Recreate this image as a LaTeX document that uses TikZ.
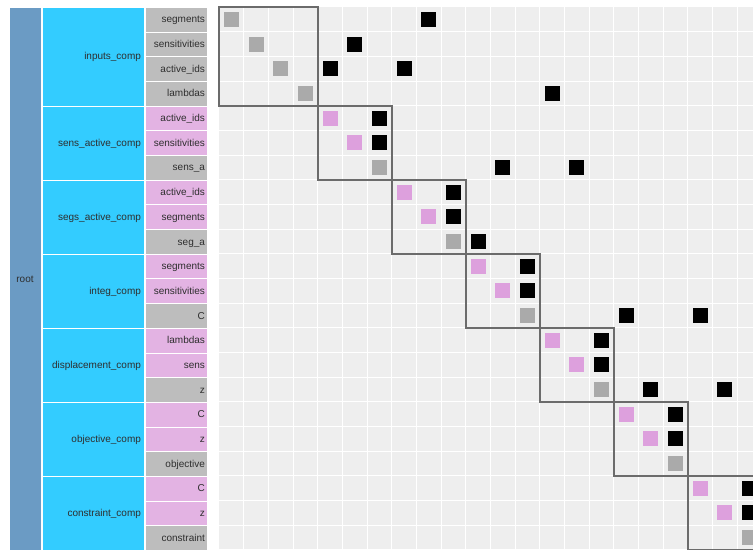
\documentclass[tikz,border=0pt]{standalone}
\usepackage{fontspec}
\setmainfont{Liberation Sans}
\usepackage{xcolor}
\usetikzlibrary{positioning}
\definecolor{rootblue}{HTML}{6B9BC4}
\definecolor{compcyan}{HTML}{33CCFF}
\definecolor{outgray}{HTML}{BDBDBD}
\definecolor{inplum}{HTML}{E3B3E3}
\definecolor{cellbg}{HTML}{EEEEEE}
\definecolor{diagout}{HTML}{AAAAAA}
\definecolor{diagin}{HTML}{DDA0DD}
\tikzset{
  pane/.style  ={draw=white,line width=0.9pt,inner sep=0pt,anchor=north west},
  txt/.style   ={font=\fontsize{10}{12}\selectfont,text=black!82,text height=7.2pt,text depth=1pt},
  varbox/.style={pane,txt,minimum width=62pt,minimum height=24.68pt,text width=57pt,align=right},
  compbox/.style={pane,txt,fill=compcyan,minimum width=102pt,text width=95pt,align=right},
  dot/.style   ={minimum size=15pt,inner sep=0pt},
  blk/.style   ={draw=black!58,line width=1.7pt},
}
\newcommand{\cs}{24.68}

\begin{document}
\begin{tikzpicture}[x=1pt,y=-1pt]
  \useasboundingbox (0,0) rectangle (753,550);
  \clip (0,0) rectangle (753,549.3);
  % left hierarchy
  \node[pane,txt,fill=rootblue,minimum width=32pt,minimum height=560pt] (root) at (9,7) {};
  \node[txt] (rootlbl) at (25,279) {root};
  \foreach \a/\n/\nm in {0/4/inputs,4/3/sens\_active,7/3/segs\_active,10/3/integ,
                         13/3/displacement,16/3/objective,19/3/constraint}
    \node[compbox,minimum height=\n*\cs pt] (comp\a) at (42,{7+\a*\cs}) {\nm\_comp};
  \foreach \i/\nm/\col in {0/segments/outgray,1/sensitivities/outgray,2/active\_ids/outgray,
      3/lambdas/outgray,4/active\_ids/inplum,5/sensitivities/inplum,6/sens\_a/outgray,
      7/active\_ids/inplum,8/segments/inplum,9/seg\_a/outgray,10/segments/inplum,
      11/sensitivities/inplum,12/C/outgray,13/lambdas/inplum,14/sens/inplum,15/z/outgray,
      16/C/inplum,17/z/inplum,18/objective/outgray,19/C/inplum,20/z/inplum,21/constraint/outgray}
    \node[varbox,fill=\col] (v\i) at (145,{7+\i*\cs}) {\nm};
  % matrix cells
  \fill[cellbg] (219,7) rectangle (770,570);
  \foreach \k in {1,...,22} {
    \draw[white,line width=1pt] ({219+\k*\cs},7) -- ++(0,570);
    \draw[white,line width=1pt] (219,{7+\k*\cs}) -- ++(560,0);
  }
  % diagonal
  \foreach \i/\col in {0/diagout,1/diagout,2/diagout,3/diagout,4/diagin,5/diagin,6/diagout,
      7/diagin,8/diagin,9/diagout,10/diagin,11/diagin,12/diagout,13/diagin,14/diagin,
      15/diagout,16/diagin,17/diagin,18/diagout,19/diagin,20/diagin,21/diagout}
    \node[dot,fill=\col] (d\i) at ({219+(\i+0.5)*\cs},{7+(\i+0.5)*\cs}) {};
  % connections
  \foreach \r/\c in {0/8,1/5,2/4,2/7,3/13,4/6,5/6,6/11,6/14,7/9,8/9,9/10,10/12,11/12,
      12/16,12/19,13/15,14/15,15/17,15/20,16/18,17/18,19/21,20/21}
    \node[dot,fill=black] (m\r-\c) at ({219+(\c+0.5)*\cs},{7+(\r+0.5)*\cs}) {};
  % component blocks
  \foreach \a/\n in {0/4,4/3,7/3,10/3,13/3,16/3,19/3}
    \draw[blk] ({219+\a*\cs},{7+\a*\cs}) rectangle ++(\n*\cs,\n*\cs);
\end{tikzpicture}
\end{document}
